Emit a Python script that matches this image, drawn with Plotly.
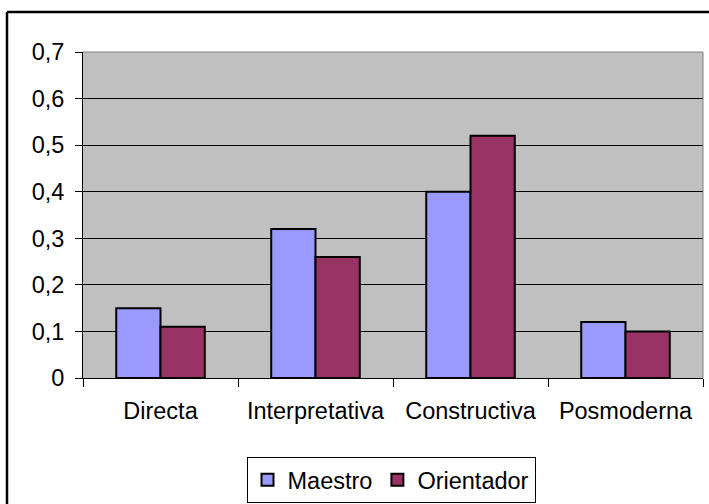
import plotly.graph_objects as go

categories = ["Directa", "Interpretativa", "Constructiva", "Posmoderna"]
maestro = [0.15, 0.32, 0.40, 0.12]
orientador = [0.11, 0.26, 0.52, 0.10]
series_names = ["Maestro", "Orientador"]

W, H = 709, 504
ML, MR, MT, MB = 83, 6, 52, 126
PW, PH = W - ML - MR, H - MT - MB

def px_x(px):
    return (px - ML) / PW

def px_y(py):
    return (H - MB - py) / PH

FONT = "Arial, 'Liberation Sans', sans-serif"

fig = go.Figure()
fig.add_trace(go.Bar(x=categories, y=maestro, name=series_names[0],
                     marker=dict(color="#9999FF", line=dict(color="#000000", width=2))))
fig.add_trace(go.Bar(x=categories, y=orientador, name=series_names[1],
                     marker=dict(color="#993366", line=dict(color="#000000", width=2))))

fig.update_layout(
    width=W, height=H,
    margin=dict(l=ML, r=MR, t=MT, b=MB, pad=0, autoexpand=False),
    paper_bgcolor="white",
    plot_bgcolor="#C0C0C0",
    separators=",.",
    barmode="group",
    bargap=0.4286,
    bargroupgap=0,
    font=dict(family=FONT, size=23.5, color="black"),
    showlegend=True,
    legend=dict(
        orientation="h",
        x=px_x(391), xanchor="center",
        y=px_y(457), yanchor="top",
        bordercolor="black", borderwidth=1,
        bgcolor="white",
        font=dict(family=FONT, size=23.5, color="black"),
        itemwidth=30,
        tracegroupgap=0,
    ),
    xaxis=dict(
        showline=True, linecolor="black", linewidth=1,
        ticks="outside", ticklen=8, tickcolor="black",
        tickson="boundaries",
        showgrid=False,
        tickfont=dict(family=FONT, size=23.5, color="black"),
        ticklabelstandoff=12,
    ),
    yaxis=dict(
        range=[0, 0.7], dtick=0.1, tick0=0,
        showline=True, linecolor="black", linewidth=1,
        ticks="outside", ticklen=7, tickcolor="black",
        showgrid=True, gridcolor="black", gridwidth=1,
        zeroline=False,
        tickfont=dict(family=FONT, size=23.5, color="black"),
        ticklabelstandoff=6,
    ),
    shapes=[
        dict(type="line", xref="paper", yref="paper", x0=1, x1=1, y0=0, y1=1,
             line=dict(color="#808080", width=1)),
        dict(type="line", xref="paper", yref="paper", x0=0, x1=1, y0=1, y1=1,
             line=dict(color="#808080", width=1)),
        dict(type="line", xref="paper", yref="paper",
             x0=px_x(7), x1=px_x(709), y0=px_y(12), y1=px_y(12),
             line=dict(color="black", width=2.5)),
        dict(type="line", xref="paper", yref="paper",
             x0=px_x(7), x1=px_x(7), y0=px_y(12), y1=px_y(504),
             line=dict(color="black", width=2.5)),
    ],
)

fig.write_html("out.html", config={"displayModeBar": False},
               post_script="document.body.style.margin='0';document.body.style.overflow='hidden';")
